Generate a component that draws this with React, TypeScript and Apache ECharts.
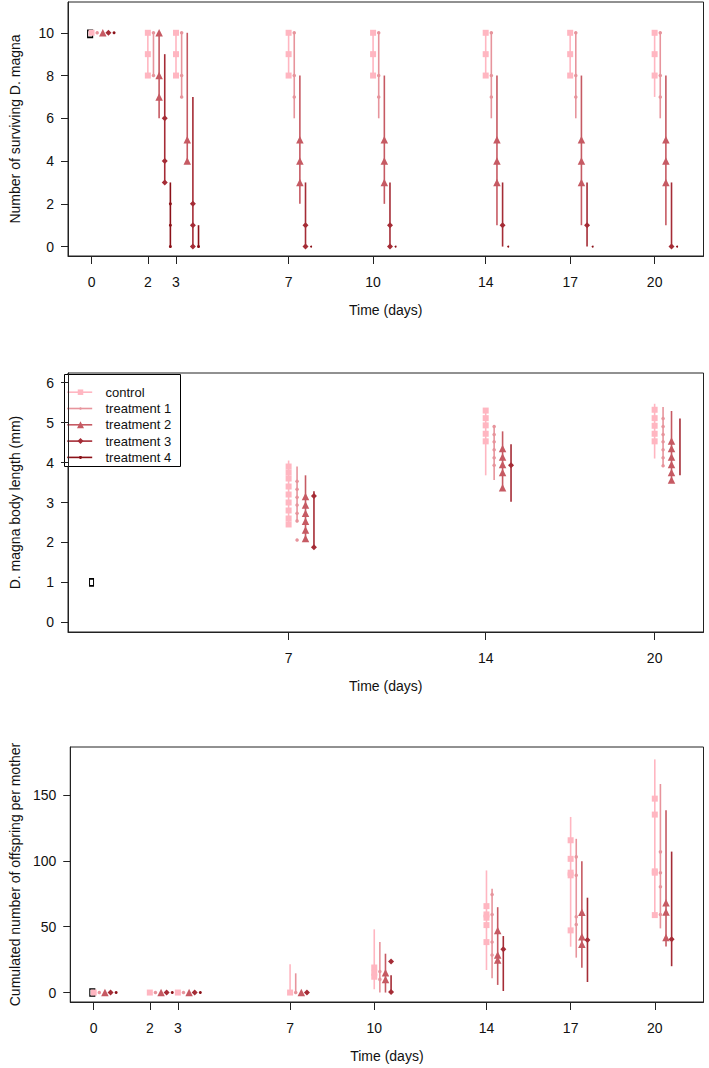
import React, { useEffect, useRef } from "react";
import * as echarts from "echarts";

const TREATMENTS = ["control", "treatment 1", "treatment 2", "treatment 3", "treatment 4"];
const COLORS = ["#FFB6C1", "#E7949C", "#C65A63", "#A52C36", "#8B1118"];
const SYMBOLS = ["rect", "circle", "triangle", "diamond", "circle"];
const SYMBOL_SIZES = [6, 3.5, 7.5, 6, 3];

const SURV_DAYS = [0, 2, 3, 7, 10, 14, 17, 20];
const LENGTH_DAYS = [7, 14, 20];
const SURV_Y_TICKS = [0, 2, 4, 6, 8, 10];
const LENGTH_Y_TICKS = [0, 1, 2, 3, 4, 5, 6];
const OFFSPRING_Y_TICKS = [0, 50, 100, 150];

// ---------- Panel 1: number of survivors. rows: [day, values...] ----------
const survControlPts = [[0, 10], [2, 10, 9, 8], [3, 10, 9, 8], [7, 10, 9, 8], [10, 10, 9, 8], [14, 10, 9, 8], [17, 10, 9, 8], [20, 10, 9, 8]];
const survT1Pts = [[0, 10], [2, 10, 8], [3, 10, 8, 7], [7, 10, 8, 7], [10, 10, 8, 7], [14, 10, 8, 7], [17, 10, 8, 7], [20, 10, 8, 7]];
const survT2Pts = [[0, 10], [2, 10, 8, 7], [3, 5, 4], [7, 5, 4, 3], [10, 5, 4, 3], [14, 5, 4, 3], [17, 5, 4, 3], [20, 5, 4, 3]];
const survT3Pts = [[0, 10], [2, 6, 4, 3], [3, 2, 1, 0], [7, 1, 0], [10, 1, 0], [14, 1], [17, 1], [20, 0]];
const survT4Pts = [[0, 10], [2, 2, 1, 0], [3, 0], [7, 0], [10, 0], [14, 0], [17, 0], [20, 0]];
// intervals: [day, low, high]
const survControlCI = [[2, 8, 10], [3, 8, 10], [7, 8, 10], [10, 8, 10], [14, 8, 10], [17, 8, 10], [20, 7, 10]];
const survT1CI = [[2, 8, 10], [3, 7, 10], [7, 6, 10], [10, 6, 10], [14, 6, 10], [17, 6, 10], [20, 6, 10]];
const survT2CI = [[2, 6, 10], [3, 4, 10], [7, 2, 8], [10, 2, 8], [14, 1, 8], [17, 1, 8], [20, 1, 8]];
const survT3CI = [[2, 3, 9], [3, 0, 7], [7, 0, 3], [10, 0, 3], [14, 0, 3], [17, 0, 3], [20, 0, 3]];
const survT4CI = [[2, 0, 3], [3, 0, 1]];
const survInitial = [[-0.05, 9.95]];

// ---------- Panel 2: body length (mm) ----------
const lenControlPts = [[7, 3.9, 3.75, 3.6, 3.4, 3.2, 3.0, 2.8, 2.6, 2.45], [14, 5.3, 5.11, 4.93, 4.72, 4.53], [20, 5.32, 5.11, 4.92, 4.72, 4.53]];
const lenT1Pts = [[7, 3.53, 3.33, 3.13, 2.94, 2.73, 2.54, 2.06], [14, 4.9, 4.7, 4.52, 4.32, 4.12, 3.93], [20, 5.1, 4.9, 4.7, 4.52, 4.32, 4.12, 3.92]];
const lenT2Pts = [[7, 3.15, 2.94, 2.73, 2.53, 2.31, 2.1], [14, 4.35, 4.14, 3.95, 3.75, 3.37], [20, 4.54, 4.35, 4.14, 3.95, 3.75, 3.56]];
const lenT3Pts = [[7, 3.16, 1.88], [14, 3.93]];
const lenT4Pts: number[][] = [];
const lenControlCI = [[7, 2.4, 4.05], [14, 3.68, 5.36], [20, 4.1, 5.47]];
const lenT1CI = [[7, 2.53, 3.9], [14, 3.56, 4.9], [20, 3.92, 5.39]];
const lenT2CI = [[7, 2.03, 3.68], [14, 3.31, 4.78], [20, 3.56, 5.29]];
const lenT3CI = [[7, 1.86, 3.28], [14, 3.02, 4.46], [20, 3.68, 5.1]];
const lenT4CI: number[][] = [];
const lenInitial = [[0, 1]];

// ---------- Panel 3: cumulated offspring per mother ----------
const offControlPts = [[0, 0], [2, 0], [3, 0], [7, 0], [10, 19, 15, 12], [14, 65.6, 59.3, 56.8, 51.2, 38.3], [17, 115.6, 101.5, 91, 89, 47.2], [20, 147.2, 135.1, 92, 91, 58.8]];
const offT1Pts = [[0, 0], [2, 0], [3, 0], [7, 0], [10, 15.9, 10], [14, 74.5, 59.3, 38.3, 28.5], [17, 103, 89.1, 57.6, 51.7], [20, 106.8, 90.9, 80.3, 59.3]];
const offT2Pts = [[0, 0], [2, 0], [3, 0], [7, 0], [10, 15.1, 10], [14, 47.2, 28.5, 24.7], [17, 61, 42.4, 36.6], [20, 68.2, 61.1, 41.7]];
const offT3Pts = [[0, 0], [2, 0], [3, 0], [7, 0], [10, 23.5, 0.5], [14, 32.8], [17, 39.8], [20, 40.4]];
const offT4Pts = [[0, 0], [2, 0], [3, 0]];
const offControlCI = [[7, 0, 21.4], [10, 2.5, 48], [14, 17.1, 92.7], [17, 34.8, 133.3], [20, 56.8, 177]];
const offT1CI = [[7, 0, 14.6], [10, 0, 38.3], [14, 10.8, 78.8], [17, 26.5, 116.7], [20, 48.7, 158.3]];
const offT2CI = [[10, 0, 29.5], [14, 5.8, 64.8], [17, 18.9, 99.7], [20, 35, 138.3]];
const offT3CI = [[10, 0, 13.1], [14, 1.2, 42.9], [17, 8, 72], [20, 20, 107]];
const offT4CI: number[][] = [];
const offInitial = [[-0.05, 0]];

const FONT = "'Liberation Sans', Arial, Helvetica, sans-serif";
const AXIS_COLOR = "#222";
const TEXT_COLOR = "#111";

function panelSeries(idx: number, ptsList: number[][][], ciList: number[][][], dodge: number, initial: number[][], initSize: number[], tinyLateT4: boolean) {
  const out: any[] = [];
  out.push({
    type: "scatter",
    name: "initial-" + idx,
    xAxisIndex: idx,
    yAxisIndex: idx,
    data: initial,
    symbol: "rect",
    symbolSize: initSize,
    itemStyle: { color: "rgba(0,0,0,0)", borderColor: "#000", borderWidth: 1.3, opacity: 1 },
    z: 2,
    silent: true,
  });
  ciList.forEach((rows, t) => {
    out.push({
      type: "custom",
      name: "ci-" + idx + "-" + t,
      xAxisIndex: idx,
      yAxisIndex: idx,
      data: rows.map((r) => [r[0] + t * dodge, r[1], r[2]]),
      encode: { x: 0, y: [1, 2] },
      z: 3 + t * 2,
      silent: true,
      renderItem: (_p: any, api: any) => {
        const x = api.value(0);
        const a = api.coord([x, api.value(1)]);
        const b = api.coord([x, api.value(2)]);
        return {
          type: "line",
          shape: { x1: a[0], y1: a[1], x2: b[0], y2: b[1] },
          style: { stroke: COLORS[t], lineWidth: 1.6 },
        };
      },
    });
  });
  ptsList.forEach((rows, t) => {
    const data: number[][] = [];
    rows.forEach((r) => {
      for (let i = 1; i < r.length; i++) data.push([r[0] + t * dodge, r[i]]);
    });
    out.push({
      type: "scatter",
      name: "pts-" + idx + "-" + t,
      xAxisIndex: idx,
      yAxisIndex: idx,
      data,
      symbol: SYMBOLS[t],
      symbolSize: tinyLateT4 && t === 4 ? (v: number[]) => (v[0] > 5 ? 2 : SYMBOL_SIZES[t]) : SYMBOL_SIZES[t],
      itemStyle: { color: COLORS[t], opacity: 1 },
      z: 4 + t * 2,
      silent: true,
    });
  });
  return out;
}

const XMIN = -0.836;
const XMAX = 21.736;

function xAxis(idx: number, ticks: number[]) {
  return {
    type: "value",
    gridIndex: idx,
    min: XMIN,
    max: XMAX,
    name: "Time (days)",
    nameLocation: "middle",
    nameGap: 47,
    nameTextStyle: { fontFamily: FONT, fontSize: 14, color: TEXT_COLOR },
    axisLine: { show: true, onZero: false, lineStyle: { color: AXIS_COLOR, width: 1 } },
    axisTick: { show: true, length: 8, customValues: ticks, lineStyle: { color: AXIS_COLOR, width: 1 } },
    axisLabel: { show: true, customValues: ticks, margin: 19, fontFamily: FONT, fontSize: 14, color: TEXT_COLOR },
    splitLine: { show: false },
  };
}

function yAxis(idx: number, min: number, max: number, ticks: number[], name: string, gap: number) {
  return {
    type: "value",
    gridIndex: idx,
    min,
    max,
    name,
    nameLocation: "middle",
    nameGap: gap,
    nameRotate: 90,
    nameTextStyle: { fontFamily: FONT, fontSize: 14, color: TEXT_COLOR },
    axisLine: { show: true, onZero: false, lineStyle: { color: AXIS_COLOR, width: 1 } },
    axisTick: { show: true, length: 7, customValues: ticks, lineStyle: { color: AXIS_COLOR, width: 1 } },
    axisLabel: { show: true, customValues: ticks, margin: 14, fontFamily: FONT, fontSize: 14, color: TEXT_COLOR },
    splitLine: { show: false },
  };
}

// legend drawn as graphic (line + marker + text), matching R's legend box
function legendGraphic() {
  const rowGap = 16.3;
  const children: any[] = [
    { type: "rect", shape: { x: 0, y: 0, width: 116, height: 92 }, style: { fill: "#fff", stroke: "#000", lineWidth: 1 } },
  ];
  const markerSize = [5.5, 2.5, 7, 6, 3];
  TREATMENTS.forEach((name, t) => {
    const cy = 17.7 + rowGap * t;
    const cx = 16;
    const c = COLORS[t];
    children.push({ type: "line", shape: { x1: 2.7, y1: cy, x2: 27.7, y2: cy }, style: { stroke: c, lineWidth: 1.6 } });
    const s = markerSize[t];
    if (SYMBOLS[t] === "rect") {
      children.push({ type: "rect", shape: { x: cx - s / 2, y: cy - s / 2, width: s, height: s }, style: { fill: c } });
    } else if (SYMBOLS[t] === "circle") {
      children.push({ type: "circle", shape: { cx, cy, r: s / 2 }, style: { fill: c } });
    } else if (SYMBOLS[t] === "triangle") {
      children.push({ type: "polygon", shape: { points: [[cx, cy - s / 2], [cx + s / 2, cy + s / 2], [cx - s / 2, cy + s / 2]] }, style: { fill: c } });
    } else {
      children.push({ type: "polygon", shape: { points: [[cx, cy - s / 2], [cx + s / 2, cy], [cx, cy + s / 2], [cx - s / 2, cy]] }, style: { fill: c } });
    }
    children.push({
      type: "text",
      x: 41,
      y: cy,
      style: { text: name, fontFamily: FONT, fontSize: 13, fill: TEXT_COLOR, verticalAlign: "middle", align: "left" },
    });
  });
  return { type: "group", left: 64, top: 374, z: 50, children };
}

export default function App() {
  const ref = useRef<HTMLDivElement>(null);
  useEffect(() => {
    if (!ref.current) return;
    const chart = echarts.init(ref.current, undefined, { renderer: "svg" });
    const gridCommon = { left: 64, width: 639.5, show: true, borderColor: AXIS_COLOR, borderWidth: 1, containLabel: false };
    const series = [
      ...panelSeries(0, [survControlPts, survT1Pts, survT2Pts, survT3Pts, survT4Pts], [survControlCI, survT1CI, survT2CI, survT3CI, survT4CI], 0.2, survInitial, [5, 7], true),
      ...panelSeries(1, [lenControlPts, lenT1Pts, lenT2Pts, lenT3Pts, lenT4Pts], [lenControlCI, lenT1CI, lenT2CI, lenT3CI, lenT4CI], 0.3, lenInitial, [4, 7], false),
      ...panelSeries(2, [offControlPts, offT1Pts, offT2Pts, offT3Pts, offT4Pts], [offControlCI, offT1CI, offT2CI, offT3CI, offT4CI], 0.2, offInitial, [5, 7], false),
    ];
    chart.setOption({
      animation: false,
      backgroundColor: "#fff",
      textStyle: { fontFamily: FONT },
      grid: [
        { ...gridCommon, top: 2, height: 254 },
        { ...gridCommon, top: 373, height: 259 },
        { ...gridCommon, top: 747, height: 255 },
      ],
      xAxis: [xAxis(0, SURV_DAYS), xAxis(1, LENGTH_DAYS), xAxis(2, SURV_DAYS)],
      yAxis: [
        yAxis(0, -0.44, 11.44, SURV_Y_TICKS, "Number of surviving D. magna", 46),
        yAxis(1, -0.24, 6.24, LENGTH_Y_TICKS, "D. magna body length (mm)", 46),
        yAxis(2, -7.17, 186.4, OFFSPRING_Y_TICKS, "Cumulated number of offspring per mother", 46),
      ],
      graphic: [legendGraphic()],
      series,
    });
    return () => chart.dispose();
  }, []);
  return <div ref={ref} style={{ position: "fixed", left: 0, top: 0, width: 709, height: 1068 }} />;
}
